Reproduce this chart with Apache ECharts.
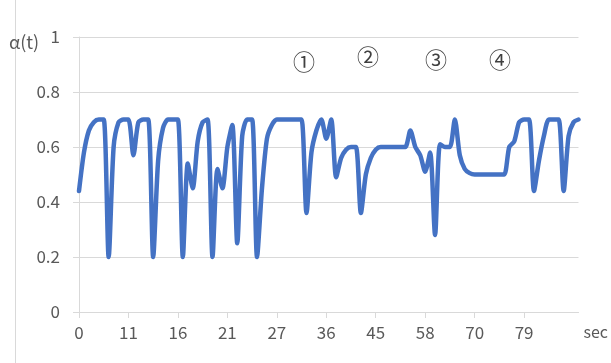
<!DOCTYPE html>
<html><head><meta charset="utf-8">
<script src="https://cdn.jsdelivr.net/npm/echarts@6/dist/echarts.min.js"></script>
<style>html,body{margin:0;padding:0;background:#fff}#c{width:611px;height:363px}</style>
</head><body><div id="c"></div>
<script>
// shown time labels (every 10th sample)
const tickLabels = ['0','11','16','21','27','36','45','58','70','79'];
// alpha(t) samples
const alphaValues = [
 0.44,0.58,0.66,0.69,0.70,0.70,0.20,0.60,0.69,0.70,
 0.70,0.57,0.69,0.70,0.70,0.20,0.55,0.67,0.70,0.70,
 0.70,0.20,0.54,0.45,0.62,0.69,0.70,0.20,0.52,0.45,
 0.60,0.68,0.25,0.64,0.70,0.70,0.20,0.45,0.63,0.68,
 0.70,0.70,0.70,0.70,0.70,0.70,0.36,0.58,0.66,0.70,
 0.63,0.70,0.49,0.56,0.59,0.60,0.60,0.36,0.50,0.56,
 0.59,0.60,0.60,0.60,0.60,0.60,0.60,0.66,0.60,0.57,
 0.51,0.58,0.28,0.61,0.60,0.60,0.70,0.57,0.52,0.505,
 0.50,0.50,0.50,0.50,0.50,0.50,0.50,0.60,0.62,0.69,
 0.70,0.70,0.44,0.55,0.64,0.70,0.70,0.70,0.44,0.64,
 0.69,0.70
];
const phaseMarks = ['①','②','③','④'];
const categories = alphaValues.map((v,i)=> i%10===0 ? (tickLabels[i/10]||'') : '');
const font = '"Noto Sans CJK SC", "Noto Sans", sans-serif';
const chart = echarts.init(document.getElementById('c'), null, {renderer:'canvas'});
const markPos = [[304,62],[368,57],[436,60],[500,60]];
const shown = i => i%10===0 && i/10 < tickLabels.length;
chart.setOption({
  animation:false,
  grid:{left:79,right:31,top:37,bottom:51,containLabel:false},
  xAxis:{type:'category',data:categories,boundaryGap:false,
    name:'sec',nameLocation:'end',nameGap:5,
    nameTextStyle:{color:'#595959',fontSize:16,fontFamily:font,verticalAlign:'top',padding:[12,0,0,0]},
    axisLine:{lineStyle:{color:'#d9d9d9'}},
    axisTick:{show:true,interval:(i)=>shown(i),length:6,lineStyle:{color:'#d9d9d9'}},
    axisLabel:{interval:(i)=>shown(i),color:'#595959',fontSize:17,fontFamily:font,margin:12},
    splitLine:{show:false}},
  yAxis:{type:'value',min:0,max:1,interval:0.2,
    axisLine:{show:true,lineStyle:{color:'#d9d9d9'}},
    axisTick:{show:true,length:6,lineStyle:{color:'#d9d9d9'}},
    axisLabel:{color:'#595959',fontSize:17,fontFamily:font,margin:19,
      formatter:v=>String(Math.round(v*10)/10)},
    splitLine:{lineStyle:{color:'#d9d9d9',width:1}}},
  series:[{type:'line',data:alphaValues,smooth:0.25,symbol:'none',
    lineStyle:{color:'#4472C4',width:4.5,cap:'round',join:'round'}}],
  graphic:[
    {type:'line',shape:{x1:15.5,y1:0,x2:15.5,y2:363},style:{stroke:'#d9d9d9',lineWidth:1}},
    {type:'text',left:9,top:33,style:{text:'α(t)',fill:'#595959',font:'18px '+font}},
  ].concat(phaseMarks.map((m,i)=>({type:'text',x:markPos[i][0],y:markPos[i][1],
    style:{text:m,fill:'#404040',font:'22px '+font,textAlign:'center',textVerticalAlign:'middle'}})))
});
</script></body></html>
